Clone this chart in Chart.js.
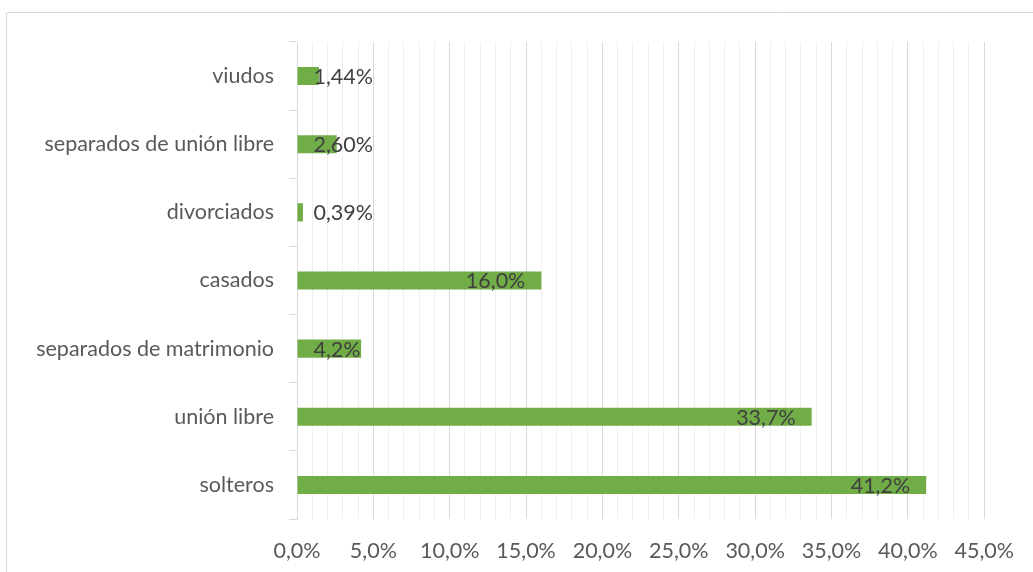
<!DOCTYPE html>
<html>
<head>
<meta charset="utf-8">
<script src="https://cdn.jsdelivr.net/npm/chart.js@4.4.0/dist/chart.umd.min.js"></script>
<style>
  html, body { margin: 0; padding: 0; background: #fff; }
  #wrap { position: relative; width: 1033px; height: 572px; }
</style>
</head>
<body>
<div id="wrap"><canvas id="barChart" width="1033" height="572"></canvas></div>
<script>
// datos
const categorias = ['viudos', 'separados de unión libre', 'divorciados', 'casados', 'separados de matrimonio', 'unión libre', 'solteros'];
const porcentajes = [1.44, 2.60, 0.39, 16.0, 4.2, 33.7, 41.2];
const etiquetas = ['1,44%', '2,60%', '0,39%', '16,0%', '4,2%', '33,7%', '41,2%'];
const ejeMax = 45;

const FONT = "Lato, 'Noto Sans', sans-serif";
const TAM = 21.5;

// marco exterior (como el borde del gráfico de Excel)
const marco = {
    id: 'marco',
    beforeDraw(chart) {
        const ctx = chart.ctx;
        ctx.save();
        ctx.strokeStyle = '#d9d9d9';
        ctx.lineWidth = 1;
        ctx.beginPath();
        ctx.moveTo(6.5, 572);
        ctx.lineTo(6.5, 12.5);
        ctx.lineTo(1033, 12.5);
        ctx.stroke();
        ctx.restore();
    }
};

// etiquetas de datos: al final por dentro, o pegadas a la base si no caben
const etiquetasDatos = {
    id: 'etiquetasDatos',
    afterDatasetsDraw(chart) {
        const ctx = chart.ctx;
        const meta = chart.getDatasetMeta(0);
        ctx.save();
        ctx.font = TAM + 'px ' + FONT;
        ctx.fillStyle = '#404040';
        ctx.textAlign = 'right';
        ctx.textBaseline = 'middle';
        meta.data.forEach((bar, i) => {
            const txt = etiquetas[i];
            const w = ctx.measureText(txt).width;
            const x = Math.max(bar.x - 16, bar.base + 16 + w);
            ctx.fillText(txt, x, bar.y + 1);
        });
        ctx.restore();
    }
};

document.addEventListener('DOMContentLoaded', function() {
    const ctx = document.getElementById('barChart').getContext('2d');
    new Chart(ctx, {
        type: 'bar',
        data: {
            labels: categorias,
            datasets: [{
                data: porcentajes,
                backgroundColor: '#70ad47',
                borderWidth: 0,
                barPercentage: 0.265,
                categoryPercentage: 1
            }]
        },
        options: {
            indexAxis: 'y',
            responsive: false,
            animation: false,
            layout: { padding: { top: 42, right: 47, left: 0, bottom: 0 } },
            scales: {
                x: {
                    min: 0,
                    max: ejeMax,
                    afterFit: (s) => { s.height = 53; },
                    border: { display: false },
                    grid: {
                        drawTicks: false,
                        lineWidth: 1,
                        color: (c) => (c.tick && c.tick.value % 5 === 0) ? '#d9d9d9' : '#efefef'
                    },
                    ticks: {
                        stepSize: 1,
                        autoSkip: false,
                        maxRotation: 0,
                        padding: 19,
                        color: '#595959',
                        font: { size: TAM, family: FONT },
                        callback: (v) => v % 5 === 0 ? v.toFixed(1).replace('.', ',') + '%' : ''
                    }
                },
                y: {
                    afterFit: (s) => { s.width = 297; },
                    border: { display: true, color: '#d9d9d9' },
                    grid: {
                        offset: true,
                        drawOnChartArea: false,
                        tickLength: 8,
                        color: '#d9d9d9'
                    },
                    ticks: {
                        padding: 15,
                        color: '#595959',
                        font: { size: TAM, family: FONT }
                    }
                }
            },
            plugins: {
                legend: { display: false },
                tooltip: { enabled: false }
            }
        },
        plugins: [marco, etiquetasDatos]
    });
});
</script>
</body>
</html>
